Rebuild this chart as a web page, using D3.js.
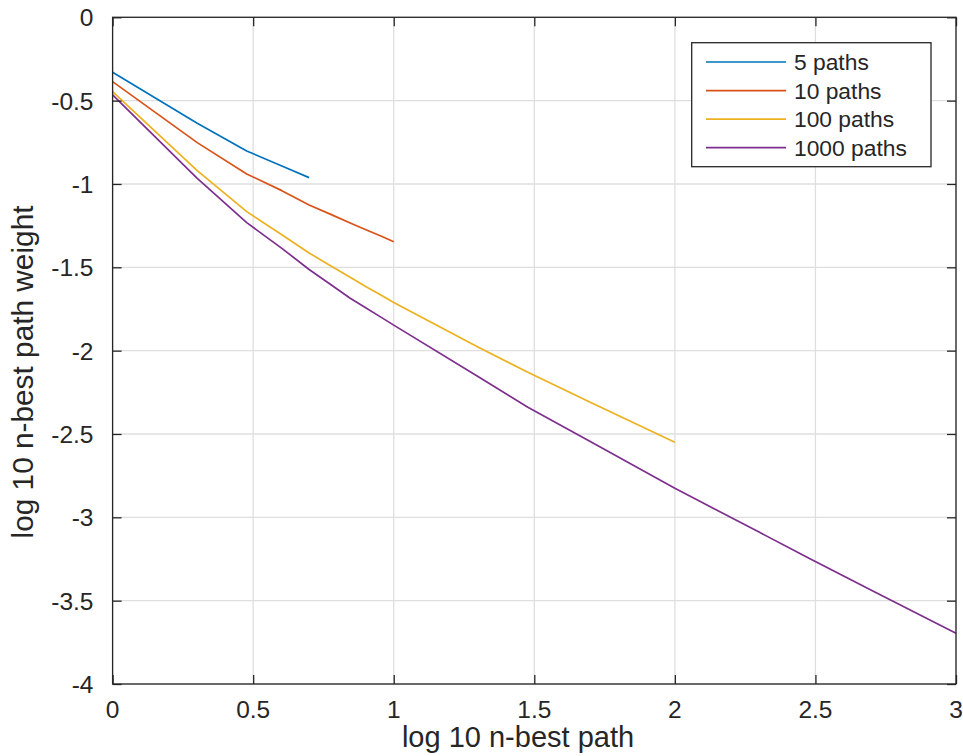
<!DOCTYPE html>
<html>
<head>
<meta charset="utf-8">
<script src="https://cdn.jsdelivr.net/npm/d3@7"></script>
<style>
  html, body { margin: 0; padding: 0; background: #fff; }
  svg { display: block; }
  text { font-family: "Liberation Sans", Arial, Helvetica, sans-serif; fill: #262626; }
</style>
</head>
<body>
<svg id="chart" width="963" height="756"></svg>
<script>
// ---- data ----
const seriesNames = ["5 paths", "10 paths", "100 paths", "1000 paths"];
const seriesColors = ["#0072BD", "#D95319", "#EDB120", "#7E2F8E"];

const ranks5 = [1, 2, 3, 4, 5];
const weights5 = [-0.33, -0.636, -0.802, -0.892, -0.962];

const ranks10 = [1, 2, 3, 4, 5, 6, 7, 8, 9, 10];
const weights10 = [-0.386, -0.752, -0.94, -1.04, -1.126, -1.184, -1.234, -1.276, -1.312, -1.347];

const ranks100 = [1, 2, 3, 4, 5, 6, 7, 8, 9, 10, 20, 30, 50, 100];
const weights100 = [-0.446, -0.92, -1.166, -1.305, -1.414, -1.494, -1.56, -1.618, -1.666, -1.711, -1.98, -2.13, -2.31, -2.55];

const ranks1000 = [1, 2, 3, 4, 5, 6, 7, 8, 9, 10, 20, 30, 50, 100, 200, 300, 500, 1000];
const weights1000 = [-0.466, -0.966, -1.232, -1.386, -1.513, -1.606, -1.686, -1.746, -1.799, -1.847, -2.156, -2.34, -2.545, -2.826, -3.09, -3.246, -3.437, -3.696];

const xTicks = [0, 0.5, 1, 1.5, 2, 2.5, 3];
const xTickLabels = ["0", "0.5", "1", "1.5", "2", "2.5", "3"];
const yTicks = [0, -0.5, -1, -1.5, -2, -2.5, -3, -3.5, -4];
const yTickLabels = ["0", "-0.5", "-1", "-1.5", "-2", "-2.5", "-3", "-3.5", "-4"];

const xLabel = "log 10 n-best path";
const yLabel = "log 10 n-best path weight";

// ---- layout ----
const pL = 112.6, pR = 956, pT = 17.3, pB = 684;
const svg = d3.select("#chart");
const x = d3.scaleLinear().domain([0, 3]).range([pL, pR]);
const y = d3.scaleLinear().domain([-4, 0]).range([pB, pT]);

// grid
const grid = svg.append("g");
grid.selectAll("line.gx").data(xTicks).join("line")
  .attr("x1", d => x(d)).attr("x2", d => x(d))
  .attr("y1", pT).attr("y2", pB)
  .attr("stroke", "#dfdfdf").attr("stroke-width", 1.3);
grid.selectAll("line.gy").data(yTicks).join("line")
  .attr("y1", d => y(d)).attr("y2", d => y(d))
  .attr("x1", pL).attr("x2", pR)
  .attr("stroke", "#dfdfdf").attr("stroke-width", 1.3);

// series
const series = [
  { r: ranks5, w: weights5 },
  { r: ranks10, w: weights10 },
  { r: ranks100, w: weights100 },
  { r: ranks1000, w: weights1000 }
];
const line = d3.line().x(d => x(d[0])).y(d => y(d[1]));
series.forEach((s, i) => {
  const pts = s.r.map((n, j) => [Math.log10(n), s.w[j]]);
  svg.append("path").datum(pts)
    .attr("d", line)
    .attr("fill", "none")
    .attr("stroke", seriesColors[i])
    .attr("stroke-width", 1.7)
    .attr("stroke-linejoin", "round");
});

// axes (inside ticks on all sides) via d3 axes
const tl = 9;
const axB = svg.append("g").attr("transform", `translate(0,${pB})`)
  .call(d3.axisTop(x).tickValues(xTicks).tickSize(tl).tickFormat(""));
const axT = svg.append("g").attr("transform", `translate(0,${pT})`)
  .call(d3.axisBottom(x).tickValues(xTicks).tickSize(tl).tickFormat(""));
const axL = svg.append("g").attr("transform", `translate(${pL},0)`)
  .call(d3.axisRight(y).tickValues(yTicks).tickSize(tl).tickFormat(""));
const axR = svg.append("g").attr("transform", `translate(${pR},0)`)
  .call(d3.axisLeft(y).tickValues(yTicks).tickSize(tl).tickFormat(""));
[axB, axT, axL, axR].forEach(a => {
  a.select(".domain").remove();
  a.selectAll("line").attr("stroke", "#262626").attr("stroke-width", 1.3);
});

// box
svg.append("rect")
  .attr("x", pL).attr("y", pT)
  .attr("width", pR - pL).attr("height", pB - pT)
  .attr("fill", "none").attr("stroke", "#262626").attr("stroke-width", 1.3);

// tick labels
svg.append("g").selectAll("text").data(xTicks).join("text")
  .attr("x", d => x(d)).attr("y", 718.3)
  .attr("text-anchor", "middle")
  .style("font-size", "24.5px")
  .text((d, i) => xTickLabels[i]);

svg.append("g").selectAll("text").data(yTicks).join("text")
  .attr("x", 93.5).attr("y", d => y(d) + 9)
  .attr("text-anchor", "end")
  .style("font-size", "24.5px")
  .text((d, i) => yTickLabels[i]);

// axis labels
svg.append("text")
  .attr("x", 518).attr("y", 747.3)
  .attr("text-anchor", "middle")
  .style("font-size", "29px")
  .text(xLabel);

svg.append("text")
  .attr("transform", "translate(32.5,372) rotate(-90)")
  .attr("text-anchor", "middle")
  .style("font-size", "29.8px")
  .text(yLabel);

// legend
const lg = svg.append("g");
const lgX = 691.7, lgY = 42.7, lgW = 239.3, lgH = 124;
lg.append("rect").attr("x", lgX).attr("y", lgY).attr("width", lgW).attr("height", lgH)
  .attr("fill", "#fff").attr("stroke", "#262626").attr("stroke-width", 1.3);
const rowY = d3.scaleLinear().domain([0, 3]).range([62, 147.7]);
seriesNames.forEach((name, i) => {
  lg.append("line")
    .attr("x1", 706).attr("x2", 786)
    .attr("y1", rowY(i)).attr("y2", rowY(i))
    .attr("stroke", seriesColors[i]).attr("stroke-width", 1.7);
  lg.append("text")
    .attr("x", 794).attr("y", rowY(i) + 8)
    .style("font-size", "22.8px")
    .text(name);
});
</script>
</body>
</html>
